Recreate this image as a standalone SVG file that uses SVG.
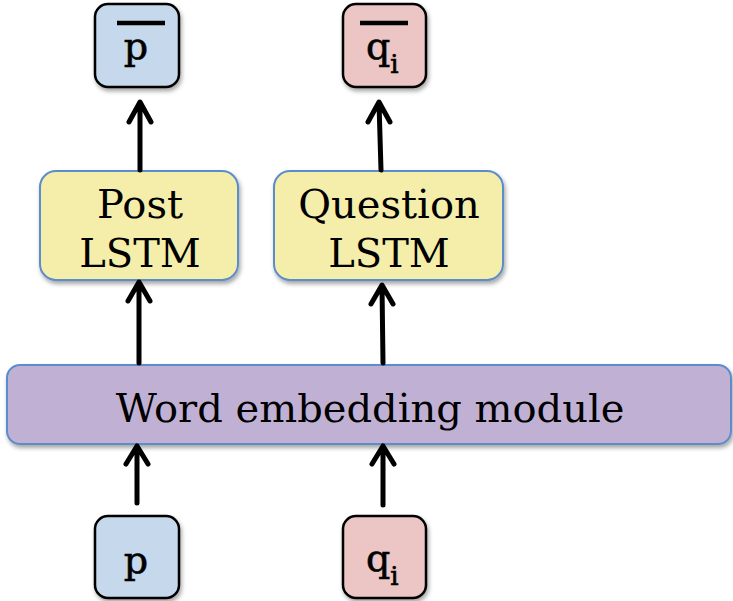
<svg xmlns="http://www.w3.org/2000/svg" width="733" height="601" viewBox="0 0 733 601">
<style>
.t{font-family:"DejaVu Serif","Liberation Serif",serif;fill:#000;text-anchor:middle}
.big{font-size:40px}
.var{font-size:38px;stroke:#000;stroke-width:0.6}
.sub{font-size:26px}
.sq{stroke:#000;stroke-width:2.5}
.bl{stroke:#5b8dcb;stroke-width:2}
.arr{fill:none;stroke:#000;stroke-width:5;stroke-linecap:round;stroke-linejoin:round}
</style>
<defs>
<filter id="sh" x="-10%" y="-10%" width="130%" height="140%">
<feDropShadow dx="1.5" dy="3" stdDeviation="2" flood-color="#000" flood-opacity="0.35"/>
</filter>
</defs>
<rect width="733" height="601" fill="#fff"/>
<g id="pbar">
<rect x="95" y="4" width="84" height="83" rx="13" fill="#c6d8eb" class="sq" filter="url(#sh)"/>
<line x1="117" y1="23" x2="165" y2="23" stroke="#000" stroke-width="4.5"/>
<text class="t var" x="136" y="59">p</text>
</g>
<g id="qbar">
<rect x="343" y="4" width="83" height="83" rx="13" fill="#ecc5c5" class="sq" filter="url(#sh)"/>
<line x1="360" y1="23" x2="408" y2="23" stroke="#000" stroke-width="4.5"/>
<text class="t var" x="366" y="59" style="text-anchor:start">q<tspan class="sub" dy="14">i</tspan></text>
</g>
<g id="post">
<rect x="40" y="171" width="198" height="109" rx="16" fill="#f5eeaa" class="bl" filter="url(#sh)"/>
<text class="t big" x="140" y="218">Post</text>
<text class="t big" x="140" y="267">LSTM</text>
</g>
<g id="question">
<rect x="274" y="171" width="229" height="109" rx="16" fill="#f5eeaa" class="bl" filter="url(#sh)"/>
<text class="t big" x="389" y="218">Question</text>
<text class="t big" x="389" y="267">LSTM</text>
</g>
<g id="embed">
<rect x="7" y="365" width="724" height="79" rx="13" fill="#c0b1d4" class="bl" filter="url(#sh)"/>
<text class="t big" x="370" y="422">Word embedding module</text>
</g>
<g id="p">
<rect x="95" y="516" width="84" height="82" rx="13" fill="#c6d8eb" class="sq" filter="url(#sh)"/>
<text class="t var" x="136" y="573">p</text>
</g>
<g id="q">
<rect x="343" y="516" width="83" height="82" rx="13" fill="#ecc5c5" class="sq" filter="url(#sh)"/>
<text class="t var" x="366" y="571" style="text-anchor:start">q<tspan class="sub" dy="14">i</tspan></text>
</g>
<g id="connectors">
<path class="arr" d="M137,503 L137,447 M126,464 L137,446 L148,464"/>
<path class="arr" d="M383,505 L383,447 M372,464 L383,446 L394,464"/>
<path class="arr" d="M139,363 L139,283 M128,301 L139,282 L150,301"/>
<path class="arr" d="M383,363 L382,286 M371,304 L382,285 L393,304"/>
<path class="arr" d="M140,170 L140,103 M129,122 L140,102 L151,122"/>
<path class="arr" d="M381,170 L379,103 M368,122 L379,102 L390,122"/>
</g>
</svg>
